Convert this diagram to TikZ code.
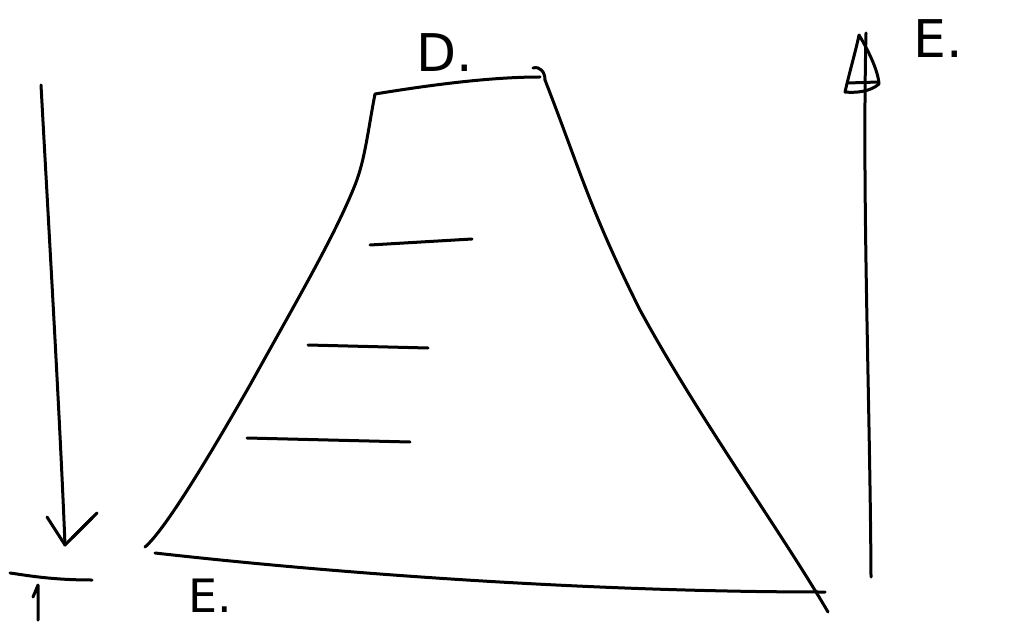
\documentclass[tikz,border=0pt]{standalone}
\usepackage{fontspec}
\setmainfont{DejaVu Sans}
\begin{document}
\begin{tikzpicture}[x=1pt,y=-1pt,
  pen/.style={line width=3pt,line cap=round,line join=round,black},
  lbl/.style={font=\fontsize{52}{52}\selectfont,inner sep=0pt,text depth=0pt,anchor=base west}]
\useasboundingbox (0,0) rectangle (1011,628);
% left down arrow
\coordinate (a1) at (41,85);
\coordinate (a2) at (65,545);
\draw[pen] (a1) .. controls (50,250) and (60,420) .. (a2);
\draw[pen] (47,517) -- (a2) -- (97,513);
\draw[pen] (72,538) -- (92,518);
% T mark
\coordinate (t1) at (10,573);
\coordinate (t2) at (92,580);
\draw[pen] (t1) .. controls (25,575) and (50,580) .. (t2);
\draw[pen] (33,597) -- (38,585) -- (38,620);
% trapezoid
\coordinate (p1) at (375,94);
\coordinate (p2) at (540,77);
\coordinate (p3) at (828,612);
\coordinate (p4) at (145,547);
\draw[pen] (p1) .. controls (368,130) and (365,160) .. (355,185)
  .. controls (335,235) and (300,295) .. (250,385)
  .. controls (210,455) and (165,530) .. (p4);
\draw[pen] (p1) .. controls (430,85) and (490,77) .. (p2);
\draw[pen] (533,68) .. controls (540,66) and (545,72) .. (545,80);
\draw[pen] (545,80) .. controls (580,170) and (590,210) .. (640,310)
  .. controls (700,420) and (780,530) .. (p3);
\draw[pen] (155,553) .. controls (350,575) and (600,592) .. (825,592);
% interior ticks
\draw[pen] (370,245) -- (472,239);
\draw[pen] (308,345) -- (428,348);
\draw[pen] (247,438) -- (410,442);
% right up arrow
\coordinate (b1) at (871,577);
\coordinate (b2) at (866,33);
\draw[pen] (b1) .. controls (870,400) and (862,200) .. (b2);
\draw[pen] (845,92) .. controls (850,70) and (856,50) .. (859,35)
  .. controls (868,50) and (878,70) .. (879,84)
  .. controls (870,92) and (855,93) .. (845,92) -- (846,88);
\draw[pen] (848,83) -- (878,82);
% labels
\node[lbl] (d) at (416,72) {D.};
\node[lbl] (e1) at (913,58) {E.};
\node[lbl,font=\fontsize{46}{46}\selectfont] (e2) at (188,612) {E.};
\end{tikzpicture}
\end{document}
